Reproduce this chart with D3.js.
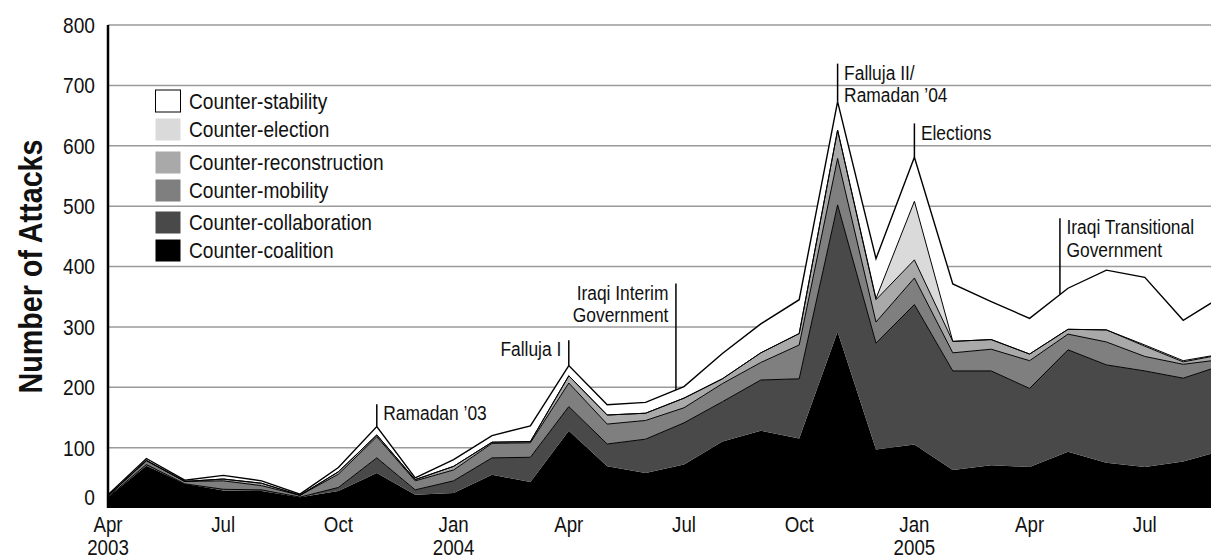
<!DOCTYPE html>
<html>
<head>
<meta charset="utf-8">
<script src="https://cdn.jsdelivr.net/npm/d3@7"></script>
<style>
  body { margin: 0; background: #fff; }
  svg { display: block; font-family: 'Liberation Sans', Arial, sans-serif; }
</style>
</head>
<body>
<script>
// monthly counts, Apr 2003 .. Sep 2005 (last month runs off the right edge)
const months = ['2003-04', '2003-05', '2003-06', '2003-07', '2003-08', '2003-09', '2003-10', '2003-11', '2003-12',
  '2004-01', '2004-02', '2004-03', '2004-04', '2004-05', '2004-06', '2004-07', '2004-08', '2004-09', '2004-10', '2004-11', '2004-12',
  '2005-01', '2005-02', '2005-03', '2005-04', '2005-05', '2005-06', '2005-07', '2005-08', '2005-09'];

const coalition     = [18, 70, 40, 29, 28, 18, 28, 58, 22, 25, 55, 43, 128, 69, 58, 72, 110, 128, 115, 292, 97, 105, 63, 71, 68, 93, 75, 68, 77, 95];
const collaboration = [0, 2, 0, 2, 2, 0, 6, 25, 8, 20, 28, 41, 40, 37, 56, 69, 66, 84, 99, 210, 176, 232, 164, 156, 130, 169, 162, 159, 138, 141];
const mobility      = [2, 6, 4, 14, 7, 3, 22, 35, 15, 18, 24, 24, 39, 33, 31, 25, 30, 29, 56, 77, 35, 44, 30, 36, 46, 26, 38, 24, 23, 10];
const reconstruction = [0, 1, 0, 3, 4, 0, 4, 3, 2, 6, 2, 2, 12, 15, 12, 16, 8, 16, 19, 47, 37, 30, 19, 16, 11, 8, 20, 17, 4, 8];
const election      = [0, 0, 0, 0, 0, 0, 0, 0, 0, 0, 0, 0, 0, 0, 0, 0, 0, 0, 0, 0, 2, 97, 0, 0, 0, 0, 0, 2, 2, 1];
const stability     = [2, 3, 2, 6, 4, 2, 7, 14, 3, 11, 11, 26, 17, 17, 18, 19, 42, 48, 56, 47, 66, 73, 95, 63, 59, 68, 99, 112, 67, 95];

const keys = ['Counter-coalition', 'Counter-collaboration', 'Counter-mobility', 'Counter-reconstruction', 'Counter-election', 'Counter-stability'];
const colors = ['#000000', '#494949', '#7f7f7f', '#a9a9a9', '#dadada', '#ffffff'];

const tickIndex = [0, 3, 6, 9, 12, 15, 18, 21, 24, 27];
const tickMonths = ['Apr', 'Jul', 'Oct', 'Jan', 'Apr', 'Jul', 'Oct', 'Jan', 'Apr', 'Jul'];
const tickYears = ['2003', '', '', '2004', '', '', '', '2005', '', ''];
const yTicks = [0, 100, 200, 300, 400, 500, 600, 700, 800];

// events: month position, value where the leader line starts, label lines, side of text
const events = [
  {at: 7, top: 172, lines: ['Ramadan \u201903'], side: 'right'},
  {at: 12, top: 278, lines: ['Falluja I'], side: 'left'},
  {at: 14.79, top: 372, lines: ['Iraqi Interim', 'Government'], side: 'left'},
  {at: 19, top: 736, lines: ['Falluja II/', 'Ramadan \u201904'], side: 'right'},
  {at: 21, top: 637, lines: ['Elections'], side: 'right'},
  {at: 24.79, top: 480, lines: ['Iraqi Transitional', 'Government'], side: 'right'}
];

const width = 1211;
const height = 559;
const narrow = 0.87; // squeeze text to look like a condensed face

const table = months.map((m, i) => ({
  month: m,
  'Counter-coalition': coalition[i],
  'Counter-collaboration': collaboration[i],
  'Counter-mobility': mobility[i],
  'Counter-reconstruction': reconstruction[i],
  'Counter-election': election[i],
  'Counter-stability': stability[i]
}));

const x = d3.scaleLinear().domain([0, 28]).range([108, 1183.2]);
const y = d3.scaleLinear().domain([0, 800]).range([508, 25]);

const series = d3.stack().keys(keys)(table);
const totals = table.map(d => d3.sum(keys, k => d[k]));

const svg = d3.select('body').append('svg')
    .attr('width', width)
    .attr('height', height);

function label(parent, px, py, size) {
  return parent.append('text')
      .attr('transform', `translate(${px},${py}) scale(${narrow},1)`)
      .attr('font-size', size)
      .attr('fill', '#111');
}

// gridlines
svg.append('g')
  .selectAll('line')
  .data(yTicks.filter(t => t > 0))
  .join('line')
    .attr('x1', x(0))
    .attr('x2', width)
    .attr('y1', d => y(d))
    .attr('y2', d => y(d))
    .attr('stroke', '#9a9a9a')
    .attr('stroke-width', 1.5);

const area = d3.area()
    .x((d, i) => x(i))
    .y0(d => y(d[0]))
    .y1(d => y(d[1]));

const topLine = d3.line()
    .x((d, i) => x(i))
    .y(d => y(d[1]));

svg.append('g')
  .selectAll('path')
  .data(series)
  .join('path')
    .attr('d', area)
    .attr('fill', (d, i) => colors[i]);

svg.append('g')
  .selectAll('path')
  .data(series.slice(1))
  .join('path')
    .attr('d', topLine)
    .attr('fill', 'none')
    .attr('stroke', '#000')
    .attr('stroke-width', (d, i) => i === series.length - 2 ? 1.4 : 1)
    .attr('stroke-linejoin', 'miter');

// y axis
svg.append('line')
    .attr('x1', x(0)).attr('x2', x(0))
    .attr('y1', y(800)).attr('y2', y(0))
    .attr('stroke', '#000')
    .attr('stroke-width', 2.5);

const yAxisG = svg.append('g');
yTicks.forEach(t => {
  label(yAxisG, 95, y(t) - (t === 0 ? 11 : 0), 22)
      .attr('dy', '0.36em')
      .attr('text-anchor', 'end')
      .text(t);
});

svg.append('text')
    .attr('transform', `translate(42,${(y(0) + y(800)) / 2}) rotate(-90) scale(${narrow},1)`)
    .attr('text-anchor', 'middle')
    .attr('font-size', 33)
    .attr('font-weight', 'bold')
    .attr('fill', '#111')
    .text('Number of Attacks');

// x axis labels: month on the first line, year below where it changes
const xAxisG = svg.append('g');
tickIndex.forEach((t, i) => {
  label(xAxisG, x(t), 532, 21.5)
      .attr('text-anchor', 'middle')
      .text(tickMonths[i]);
  if (tickYears[i]) {
    label(xAxisG, x(t), 555, 21.5)
        .attr('text-anchor', 'middle')
        .text(tickYears[i]);
  }
});

// legend
const legendY = [101, 129.5, 162.5, 190.5, 222.5, 250.5];
const legendKeys = keys.slice().reverse();
const legendG = svg.append('g');
legendKeys.forEach((k, i) => {
  legendG.append('rect')
      .attr('x', 155.5)
      .attr('y', legendY[i] - 11)
      .attr('width', 25)
      .attr('height', 22)
      .attr('fill', colors[keys.indexOf(k)])
      .attr('stroke', k === 'Counter-stability' ? '#000' : 'none')
      .attr('stroke-width', 1);
  label(legendG, 189, legendY[i], 22)
      .attr('dy', '0.36em')
      .text(k);
});

// event annotations
function totalAt(t) {
  const i = Math.floor(t);
  const f = t - i;
  return totals[i] + (totals[Math.min(i + 1, totals.length - 1)] - totals[i]) * f;
}

const evG = svg.append('g');
events.forEach(d => {
  evG.append('line')
      .attr('x1', x(d.at))
      .attr('x2', x(d.at))
      .attr('y1', y(d.top))
      .attr('y2', y(totalAt(d.at)))
      .attr('stroke', '#000')
      .attr('stroke-width', 1.5);
  const t = label(evG, x(d.at) + (d.side === 'right' ? 6.5 : -7.5), y(d.top) + 9, 20)
      .attr('text-anchor', d.side === 'right' ? 'start' : 'end');
  d.lines.forEach((s, j) => {
    t.append('tspan')
        .attr('x', 0)
        .attr('y', j * 22.5)
        .attr('dy', '0.36em')
        .text(s);
  });
});
</script>
</body>
</html>
